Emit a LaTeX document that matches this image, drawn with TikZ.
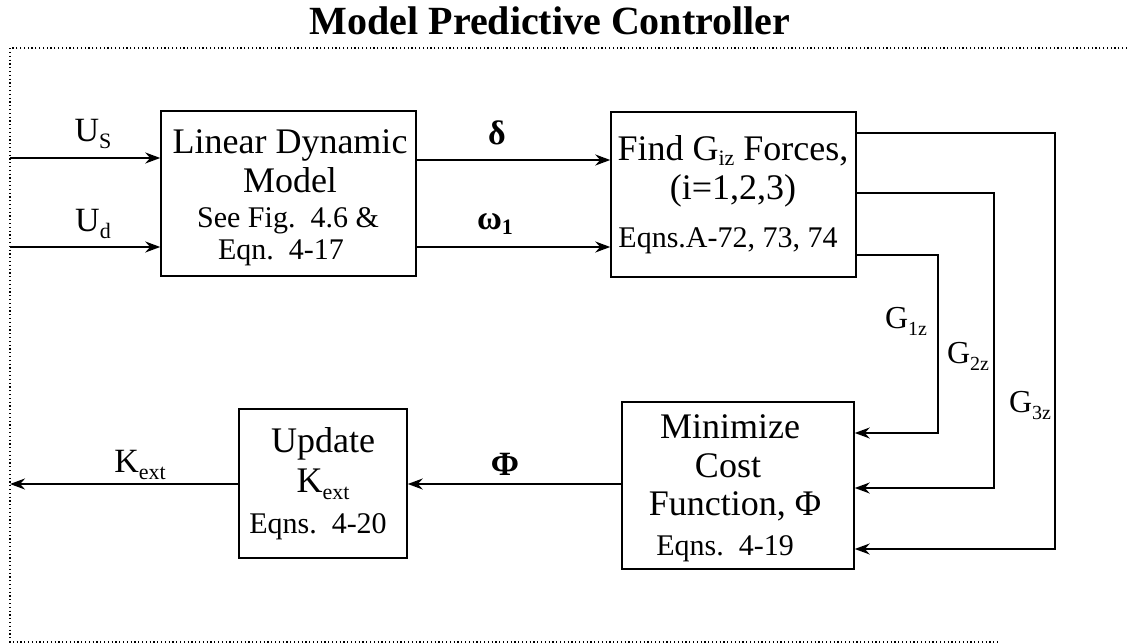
\documentclass[tikz,border=0pt]{standalone}
\usepackage{fontspec}
\setmainfont{Liberation Serif}
\usetikzlibrary{arrows.meta}
\newcommand\subtxt[3]{\raisebox{-#1pt}{\fontsize{#2}{#2}\selectfont #3}}
\tikzset{
  blk/.style={draw, line width=1.5pt, minimum width=#1, inner sep=0pt},
  bigtxt/.style={anchor=base, font=\fontsize{36}{40}\selectfont, inner sep=0pt},
  smalltxt/.style={anchor=base, font=\fontsize{30}{34}\selectfont, inner sep=0pt},
  lbl/.style={anchor=base, font=\fontsize{34}{38}\selectfont, inner sep=0pt},
  arr/.style={line width=2pt, -{Stealth[length=15pt,width=11pt]}},
  gline/.style={line width=1.5pt, -{Stealth[length=15pt,width=11pt]}},
  frame/.style={line width=1.2pt, dash pattern=on 1.2pt off 2.6pt}
}
\begin{document}
\begin{tikzpicture}[x=1pt,y=-1pt]
\useasboundingbox (0,0) rectangle (1127,644);
% frame
\draw[frame] (1127,48) -- (10,48) -- (10,642) -- (1000,642);
\node[anchor=base, font=\bfseries\fontsize{40}{44}\selectfont, inner sep=0pt] (title) at (550,35) {Model Predictive Controller};
% boxes
\node[blk=255pt, minimum height=165pt] (b1) at (288.5,193.5) {};
\node[blk=245pt, minimum height=165pt] (b2) at (733.5,194.5) {};
\node[blk=168pt, minimum height=149pt] (b3) at (323,483.5) {};
\node[blk=232pt, minimum height=167pt] (b4) at (738,485.5) {};
% box texts
\node[bigtxt] (t11) at (290,154) {Linear Dynamic};
\node[bigtxt] (t12) at (290,193) {Model};
\node[smalltxt] (t13) at (288,228) {See Fig.\ \ 4.6 \&};
\node[smalltxt] (t14) at (281,260) {Eqn.\ \ 4-17};
\node[bigtxt] (t21) at (733,161) {Find G\subtxt{5}{22}{iz} Forces,};
\node[bigtxt] (t22) at (733,200) {(i=1,2,3)};
\node[smalltxt] (t23) at (728,248) {Eqns.A-72, 73, 74};
\node[bigtxt] (t31) at (323,452) {Update};
\node[bigtxt] (t32) at (323,492) {K\subtxt{7}{22}{ext}};
\node[smalltxt] (t33) at (318,533) {Eqns.\ \ 4-20};
\node[bigtxt] (t41) at (730,438) {Minimize};
\node[bigtxt] (t42) at (728,477) {Cost};
\node[bigtxt] (t43) at (735,515) {Function, Φ};
\node[smalltxt] (t44) at (725,555) {Eqns.\ \ 4-19};
% inputs
\coordinate (us) at (10,158);
\coordinate (ud) at (10,247);
\draw[arr] (us) -- (us -| b1.west);
\draw[arr] (ud) -- (ud -| b1.west);
\node[lbl] (lus) at (93,142) {U\subtxt{7}{22}{S}};
\node[lbl] (lud) at (93,232) {U\subtxt{7}{22}{d}};
% delta, omega
\coordinate (dl) at (416,160);
\coordinate (om) at (416,247);
\draw[arr] (dl -| b1.east) -- (dl -| b2.west);
\draw[arr] (om -| b1.east) -- (om -| b2.west);
\node[lbl, font=\bfseries\fontsize{34}{38}\selectfont] (ldl) at (497,145) {δ};
\node[lbl, font=\bfseries\fontsize{34}{38}\selectfont] (lom) at (495,230) {ω\subtxt{5}{22}{1}};
% G lines
\coordinate (g1) at (938,255);
\coordinate (g2) at (994,193);
\coordinate (g3) at (1055,133);
\coordinate (c1) at (938,433);
\coordinate (c2) at (994,488);
\coordinate (c3) at (1055,549);
\draw[gline] (g1 -| b2.east) -- (g1) -- (c1) -- (c1 -| b4.east);
\draw[gline] (g2 -| b2.east) -- (g2) -- (c2) -- (c2 -| b4.east);
\draw[gline] (g3 -| b2.east) -- (g3) -- (c3) -- (c3 -| b4.east);
\node[lbl, font=\fontsize{32}{36}\selectfont] (lg1) at (906,328) {G\subtxt{7}{20}{1z}};
\node[lbl, font=\fontsize{32}{36}\selectfont] (lg2) at (968,363) {G\subtxt{7}{20}{2z}};
\node[lbl, font=\fontsize{32}{36}\selectfont] (lg3) at (1030,412) {G\subtxt{7}{20}{3z}};
% Phi and K
\coordinate (ph) at (622,484);
\coordinate (ko) at (10,484);
\draw[arr] (ph -| b4.west) -- (ph -| b3.east);
\draw[arr] (ko -| b3.west) -- (ko);
\node[lbl, font=\bfseries\fontsize{34}{38}\selectfont] (lph) at (505,475) {Φ};
\node[lbl] (lk) at (140,472) {K\subtxt{7}{22}{ext}};
\end{tikzpicture}
\end{document}
